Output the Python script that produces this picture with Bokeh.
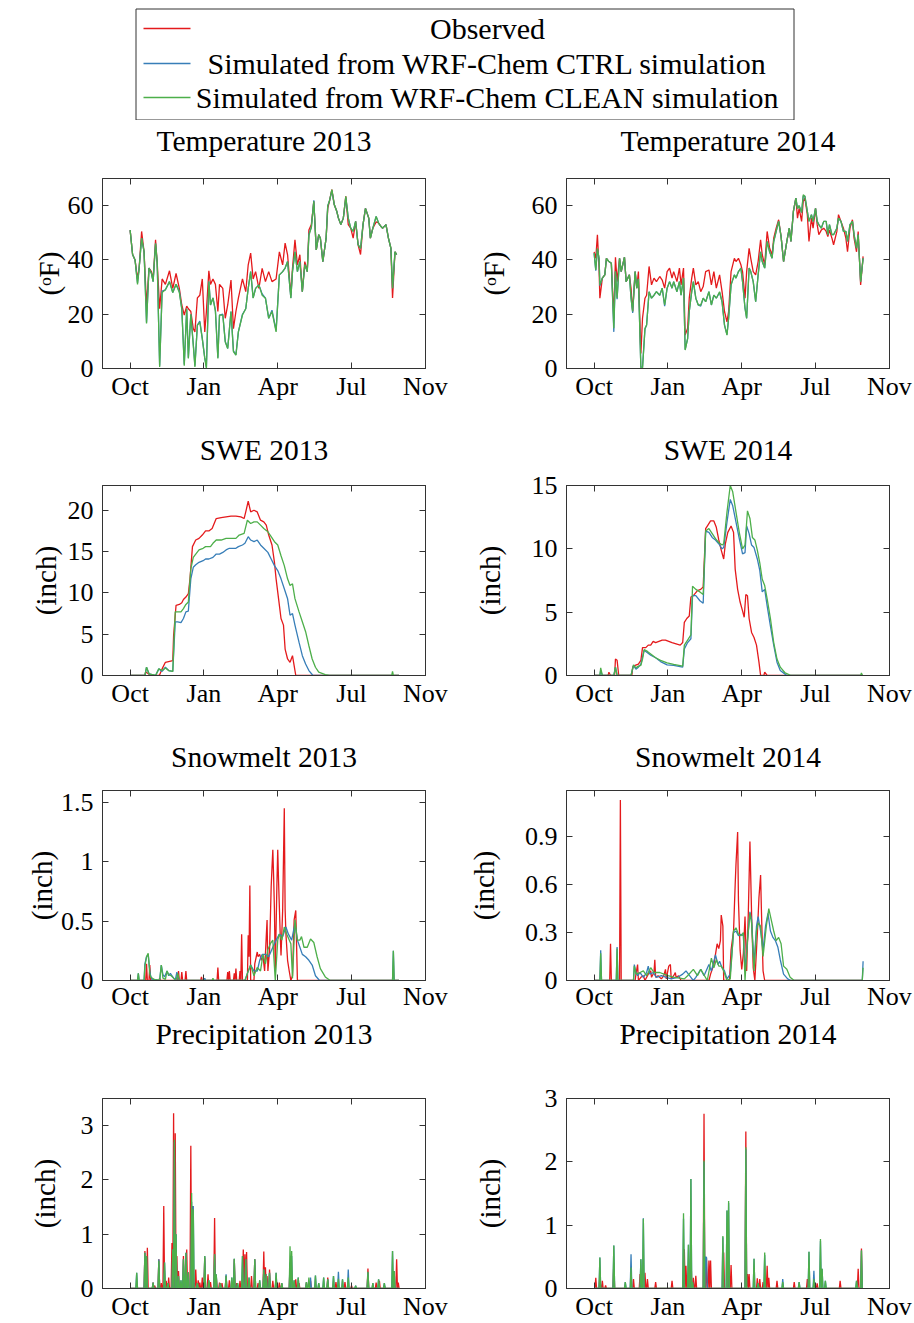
import numpy as np
from bokeh.plotting import figure
from bokeh.layouts import column, row
from bokeh.models import Range1d, FixedTicker, LinearAxis
from bokeh.embed import file_html
from bokeh.resources import INLINE
from bokeh.core.properties import value

FONT = "Liberation Serif"
RED, BLUE, GREEN = "#e41a1c", "#377eb8", "#4daf4a"
AXC = "#333333"

LEGEND_LABELS = ["Observed", "Simulated from WRF-Chem CTRL simulation",
                 "Simulated from WRF-Chem CLEAN simulation"]
MONTH_TICKS = [0, 90, 180, 270, 360]
MONTH_LABELS = ["Oct", "Jan", "Apr", "Jul", "Nov"]

# ---------------- Temperature 2013 (deg F) ----------------
temp13_day = [0,3,6,9,11,14,17,20,23,26,28,31,33,36,39,43,48,52,56,60,63,66,69,71,74,77,79,82,85,88,
              91,93,96,98,101,104,107,109,113,116,119,123,126,129,132,137,141,144,147,150,153,157,161,165,
              169,173,178,182,186,189,192,196,198,201,204,207,210,213,216,218,221,224,227,230,232,235,239,
              241,243,246,249,252,254,257,260,263,266,269,272,275,278,281,284,287,291,293,296,300,303,306,
              308,312,315,318,320,323,325]
temp13_obs = [51,42,40,33,37,50.5,43,23,37,35.7, 32.6,47.4,39,22,33,31,36,29.5,35,29.5,
              23.4,19.7,23,22,21,14.7,13.5,26,27,33, 13.5,21,36,31,33,31,21,31,29.5,18.5,
              23.4,32.6,14.7,21,25.9,33,28.3,38.2,42.5,33, 35.7,29.5,36.9,32,35.7,32,33,43,38.2,46.2,
              41.9,27,36.9,47.4,38.2,41.9,28.3,39.4,35.7,51, 53,61.6,43.7,49.3,48,39.4,48,59,61.6,65.9,
              60.3,57.9,55.4,53,55.4,63.4,53,51.7,48,54.2, 45.6,42,53,59,55.4,48,51.7,54,53.6,52.3,
              51.7,53,48,44.3,26,43,42]
temp13_ctrl = [51,42,40,31.5,37,48,43,17,37,35, 32,46,39,1,28.5,29,32,28,31,28.5,
               22,1.5,22,4,20,9,1,16,17.5,11, 4,0.5,32,23.4,26,21.5,4,19.7,20,10,
               7.4,21,6.5,5,13.5,20,22,29.5,35.7,26, 29.5,30.8,27.5,25.9,18.5,21.5,14,34.5,35.7,37,
               39.4,26,35.7,43,35.7,39.4,28.3,38.2,35.7,49.5, 52,62,43.7,49.3,48,39.4,48,60,61.6,65.5,
               60.3,57.9,55.4,53,55.4,63,55.4,51.7,50.5,54.2, 45.6,44.3,53,59,55.4,48,51.7,56,53.6,52.3,
               51.7,53,48,44.3,29.6,43,42]
temp13_clean = [51,42,40,31,37,48,43,16.6,37,35, 32,46,39,0.6,28,29,32,28,31,28,
                22,1,22,3.7,20,8.6,0.6,16,17,11, 3.7,0,32,23.4,26,21,3.7,19.7,19.7,9.8,
                7.4,21,6.2,4.9,13.5,19.7,22,29.5,35.7,25.9, 29.5,30.8,27,25.9,18.5,21,13.5,34.5,35.7,37,
                39.4,25.9,35.7,43,35.7,39.4,28.3,38.2,35.7,49, 52,61.6,43.7,49.3,48,39.4,48,60,61.6,65.9,
                60.3,57.9,55.4,53,55.4,63.4,55.4,51.7,50.5,54.2, 45.6,44.3,53,59,55.4,48,51.7,56,53.6,52.3,
                51.7,53,48,44.3,29.6,43,42]

# ---------------- Temperature 2014 (deg F) ----------------
temp14_day = [0,2,4,6,7,10,13,15,18,21, 24,26,28,31,33,37,39,43,45,47, 50,52,54,57,59,62,64,67,70,73,
              76,80,83,86,89,92,95,97,101,104, 106,109,111,114,116,119,121,124,127,130,
              133,136,140,143,146,149,153,156,159,162, 164,167,171,173,176,179,181,184,186,189,
              191,194,197,200,203,205,208,211,214,217, 219,222,225,228,231,235,238,240,243,246,
              248,250,253,255,257,260,262,265,267,270, 272,274,277,280,283,285,287,290,292,296,
              298,301,304,307,309,312,315,317,320,322, 325,328]
temp14_obs = [43,40.6,49.3,37,25.9,33.3,34.5,40.6,39.4,38.8, 18.5,41,32,40.6,35.7,41,32,34.5,29.6,21,
              35.7,29.6,35.7,5.5,18.5,25.9,27,37.6,30.8,33.3, 32,33.9,32.6,29.6,35.7,37,33.3,35.7,32,37,
              30.8,37,12.3,14.8,25.9,33.3,37,30.8,32,28.3, 30.2,35.7,36.3,30.8,35.7,29.6,34.5,28.3,21,17.2,
              21,35.7,40.6,39.4,40.6,38.2,35.7,25.9,35.7,44.3, 40.6,35.7,34.5,39.4,47.4,41.9,38.2,50.5,44.3,41.9,
              48,51.7,54.8,48.6,39.4,46.8,51.7,46.8,57.9,62.8, 55.4,59,54.2,61.6,62.8,56.7,46.8,55.4,51.7,59,
              53,49.3,51,51.7,50.5,48.6,51,48,45.6,50.5, 56.7,54.2,51.7,48,43,51.7,54.8,48,43,50.5,
              30.8,41.3]
temp14_ctrl = [42.5,36,44,40.6,30.5,33.3,34.5,40.6,39.4,38.8, 13.5,35.7,25.5,40.6,35.7,41,32,34.5,26,20.5,
               35.7,29.6,33,0.5,0.5,14.5,16,28.3,25.9,27, 28.3,27,29.6,23,29.6,32,29.6,32,28.3,32,
               27,33.3,7,11,21,28.3,32,25.9,23.4,23, 25.9,24.6,28.3,23.4,27,25.9,28,24.6,16,12.5,
               18.5,30.8,34.5,33.3,35.7,37,32,22.2,18.5,37, 35.7,32,24.6,34.5,43,39.4,37,46.8,43,40.6,
               46.8,50.5,54.2,48.6,39.4,46.8,51.7,46.8,57.9,62.8, 59,60,57.5,63.5,63.5,57.9,54.2,56.7,54.2,59,
               54.2,53,51.7,54.2,54.2,49.3,53,49.3,49.3,51.7, 55.4,54.2,50.5,50.5,46.8,53,54.2,49.3,44.3,49.3,
               32,40.6]
temp14_clean = [42.5,36.3,44.3,40.6,30.8,33.3,34.5,40.6,39.4,38.8, 14.8,35.7,25.9,40.6,35.7,41,32,34.5,26,21,
                35.7,29.6,33,0,0,14.8,16,28.3,25.9,27, 28.3,27,29.6,23.4,29.6,32,29.6,32,28.3,32,
                27,33.3,6.8,11,21,28.3,32,25.9,23.4,23.4, 25.9,24.6,28.3,23.4,27,25.9,28.3,24.6,16,12.3,
                18.5,30.8,34.5,33.3,35.7,37,32,22.2,18.5,37, 35.7,32,24.6,34.5,43,39.4,37,46.8,43,40.6,
                46.8,50.5,54.2,48.6,39.4,46.8,51.7,46.8,57.9,62.8, 59,60,57.5,64,63.5,57.9,54.2,56.7,54.2,59,
                54.2,53,51.7,54.2,54.2,49.3,53,49.3,49.3,51.7, 55.4,54.2,50.5,50.5,46.8,53,54.2,49.3,44.3,49.3,
                32,40.6]

# ---------------- SWE (inch), (day, value) ----------------
swe13_obs = [(0,0),(18,0),(19,0.4),(21,0.3),(25,0),(35,0),(36,0.1),(39,0.8),(43,1.6),(52,1.8),(53,4.8),
             (56,8.5),(60,8.6),(63,8.8),(65,9.2),(68,9.5),(71,9.9),(73,11.7),(76,15.6),(80,16.4),(84,16.6),
             (88,17),(92,17.5),(96,17.5),(100,17.8),(105,19),(111,19.1),(117,19.2),(123,19.3),(129,19.3),
             (135,19.2),(139,19),(141,19.8),(144,21.1),(147,19.8),(151,20),(155,19.8),(159,18.8),(163,18.6),
             (166,18.2),(169,17),(173,15.8),(176,13.7),(178,11.7),(181,9.3),(184,6.9),(187,6.1),(189,3.2),
             (192,2.0),(195,1.6),(198,2.4),(200,1.2),(202,0),(328,0)]
swe13_ctrl = [(0,0),(18,0),(20,1.0),(23,0.2),(27,0.1),(31,0),(35,0.8),(39,0.5),(43,1.0),(47,0.6),(52,0.5),
              (55,6.5),(58,6.5),(62,6.4),(65,6.9),(68,7.7),(71,7.8),(74,11.7),(77,13.1),(80,13.4),(84,13.7),
              (89,13.9),(92,14.1),(96,14.1),(101,14.3),(105,14.7),(109,14.7),(113,14.9),(117,15.2),(121,15.4),
              (126,15.4),(129,15.4),(132,15.6),(137,15.8),(140,16),(144,16.8),(147,16.4),(151,16.2),(155,16.4),
              (159,15.8),(163,15.4),(168,14.9),(172,14.1),(176,13.3),(180,12.7),(184,11.7),(188,10.5),(192,9.3),
              (195,7.3),(198,7.5),(201,6.1),(206,4.0),(210,2.4),(214,1.4),(218,0.6),(223,0),(328,0)]
swe13_clean = [(0,0),(18,0),(20,1.0),(23,0.2),(27,0.1),(31,0),(35,0.8),(39,0.6),(43,0.9),(47,0.6),(52,0.5),
               (55,7.7),(58,7.7),(62,7.7),(65,8.1),(68,8.6),(71,8.9),(74,12.9),(77,14.3),(80,14.7),(84,15.2),
               (89,15.4),(92,15.6),(98,15.6),(101,16),(105,16.4),(111,16.4),(117,16.6),(123,16.6),(129,16.6),
               (133,17),(139,17.2),(143,18.8),(147,18.4),(151,18.6),(155,18.6),(159,18.2),(163,17.8),(168,17.4),
               (172,16.8),(176,16.2),(180,15.8),(184,14.5),(188,13.3),(192,11.7),(195,10.9),(198,11.1),(201,9.3),
               (206,7.7),(210,6.5),(214,5.3),(218,3.6),(222,2.0),(226,1.0),(230,0.4),(238,0.1),(243,0),
               (319,0),(320,0.5),(321,0),(328,0)]
swe14_obs = [(0,0),(17,0),(18,0.26),(20,0),(25,0),(26,1.3),(28,1.2),(30,0),(46,0),(47,0.66),(50,0.8),(54,0.9),
             (57,1.2),(59,2.2),(63,2.2),(66,2.4),(69,2.4),(72,2.7),(75,2.6),(79,2.7),(83,2.8),(87,2.8),(91,2.7),
             (95,2.6),(100,2.5),(105,2.4),(108,2.6),(110,4.2),(113,4.5),(116,4.7),(118,6.2),(121,6.3),(126,6.7),
             (130,6.8),(133,7.0),(136,11.6),(138,11.8),(142,12.2),(146,12.2),(149,11.7),(152,10.7),(155,9.9),
             (158,9.2),(160,10.4),(163,11.3),(167,11.8),(170,11.3),(172,8.4),(175,6.8),(178,5.8),(181,5.1),
             (183,4.6),(185,6.4),(187,6.3),(189,4.5),(192,3.4),(195,3.0),(198,2.4),(201,1.05),(203,0),(207,0),
             (208,0.26),(211,0),(328,0)]
swe14_ctrl = [(0,0),(7,0),(8,0.4),(10,0),(24,0),(26,0.66),(28,0),(45,0),(48,0.8),(51,0.5),(54,0.66),(57,0.9),
              (61,2.0),(65,1.8),(69,1.6),(75,1.4),(81,1.1),(89,0.84),(97,0.8),(108,0.66),(110,2.1),(114,2.6),
              (118,2.9),(120,6.3),(124,6.3),(129,5.9),(133,5.7),(136,11.4),(140,11.3),(144,10.9),(148,10.7),
              (152,10.4),(156,10),(158,10.1),(162,12.1),(166,13.9),(169,13.4),(173,12.1),(177,10.8),(181,9.6),
              (184,9.7),(186,11.8),(189,11.2),(192,10.3),(195,10.1),(199,9.2),(202,8.3),(205,6.6),(208,6.8),
              (211,5.5),(215,3.9),(219,2.4),(223,1.05),(227,0.4),(234,0.05),(236,0),(328,0)]
swe14_clean = [(0,0),(7,0),(8,0.6),(10,0),(24,0),(26,0.66),(28,0),(45,0),(48,0.84),(51,0.6),(54,0.74),(57,0.8),
               (59,1.3),(61,2.05),(65,1.9),(69,1.7),(75,1.4),(81,1.2),(89,1.0),(97,0.87),(108,0.74),(110,2.4),
               (114,2.8),(118,3.2),(120,7.05),(124,6.8),(129,6.6),(133,6.4),(136,11.4),(140,11.6),(144,11.2),
               (148,10.8),(152,10.5),(156,10.3),(158,10.4),(162,12.9),(166,15.0),(169,14.5),(173,12.9),
               (177,11.3),(181,10),(184,10.3),(187,13.0),(190,12.4),(193,10.9),(196,10.7),(199,9.9),(202,8.9),
               (205,7.6),(208,7.1),(211,6.05),(215,4.5),(219,2.6),(223,1.3),(227,0.66),(233,0.2),(240,0),
               (325,0),(326,0.2),(327,0),(328,0)]

# ---------------- Snowmelt (inch), (day, value) ----------------
sm13_obs = [(0,0),(19,0),(20,0.14),(21,0),(23,0),(24,0.13),(25,0),(35,0),(36,0.02),(37,0),(58,0),(59,0.08),
            (60,0),(62,0),(63,0.07),(64,0),(67,0),(68,0.08),(69,0),(86,0),(87,0.03),(88,0),(106,0),(107,0.11),
            (108,0),(118,0),(119,0.07),(120,0),(121,0.08),(122,0),(126,0),(127,0.06),(128,0),(129,0.1),(130,0),
            (133,0),(134,0.08),(135,0),(136,0.39),(137,0),(143,0),(144,0.38),(145,0.2),(146,0.80),(147,0),
            (151,0),(152,0.14),(155,0.24),(156,0.2),(158,0.22),(160,0.17),(162,0.21),(164,0.08),(166,0.37),
            (167,0.51),(168,0.08),(170,0.25),(172,0.79),(173,0.95),(174,1.10),(175,0.87),(176,0.59),(177,0.08),
            (179,0.81),(180,1.10),(181,0.84),(183,0.39),(184,0.21),(186,0.59),(188,1.45),(189,0.6),(190,0.39),
            (192,0.17),(194,0.08),(196,0),(198,0.04),(200,0.51),(202,0.59),(204,0),(328,0)]
sm13_ctrl = [(0,0),(9,0),(10,0.06),(11,0),(17,0),(18,0.14),(20,0.2),(22,0.22),(24,0.08),(25,0.04),(27,0),
             (29,0.01),(36,0),(38,0.13),(40,0.05),(42,0.03),(45,0.08),(47,0.04),(49,0.06),(52,0.03),(55,0),
             (57,0.07),(59,0),(90,0),(91,0.02),(92,0),(140,0),(143,0.06),(147,0.13),(151,0.08),(155,0.08),
             (158,0.17),(161,0.22),(165,0.22),(169,0.2),(174,0.28),(178,0.34),(182,0.39),(186,0.37),(190,0.45),
             (193,0.39),(197,0.34),(201,0.48),(204,0.34),(207,0.28),(210,0.22),(214,0.2),(218,0.17),(222,0.13),
             (226,0.04),(231,0),(320,0),(321,0.25),(322,0),(328,0)]
sm13_clean = [(0,0),(9,0),(10,0.06),(11,0),(17,0),(18,0.12),(20,0.2),(22,0.23),(24,0.06),(25,0.03),(29,0.01),
              (36,0),(38,0.13),(40,0.02),(43,0.01),(45,0.08),(47,0.05),(50,0.04),(53,0.02),(56,0),(58,0.06),
              (60,0),(100,0),(101,0.02),(102,0),(140,0),(143,0.06),(147,0.13),(151,0.04),(155,0.11),(159,0.08),
              (162,0.22),(165,0.14),(168,0.26),(171,0.31),(174,0.34),(177,0),(180,0.34),(182,0.39),(185,0.34),
              (188,0.45),(191,0.39),(196,0.31),(198,0.02),(201,0.51),(204,0.34),(207,0.34),(209,0.37),(212,0.28),
              (216,0.28),(220,0.35),(224,0.32),(228,0.2),(232,0.1),(238,0.03),(244,0),(320,0),(321,0.25),
              (322,0),(328,0)]
sm14_obs = [(0,0),(19,0),(20,0.23),(21,0),(31,0),(32,1.13),(33,0),(50,0),(51,0.04),(53,0.1),(54,0),(57,0.02),
            (60,0.03),(62,0),(66,0.04),(69,0.06),(70,0.02),(73,0.05),(74,0.13),(75,0.02),(78,0.03),(82,0.01),
            (85,0.03),(87,0.07),(88,0.01),(91,0.09),(93,0.1),(94,0.01),(97,0.03),(99,0.05),(100,0.02),(103,0.03),
            (106,0),(140,0),(142,0.04),(146,0.1),(150,0.23),(152,0.2),(154,0.25),(155,0.41),(157,0.34),(158,0),
            (165,0),(167,0.19),(170,0.31),(172,0.6),(173,0.73),(175,0.93),(176,0.5),(178,0.19),(180,0.07),
            (182,0.17),(184,0.4),(186,0.06),(188,0.42),(190,0.87),(192,0.42),(194,0.08),(196,0),(199,0.29),
            (201,0.52),(203,0.66),(204,0.44),(206,0.06),(208,0),(328,0)]
sm14_ctrl = [(0,0),(7,0),(8,0.19),(9,0),(27,0),(28,0.21),(29,0),(48,0),(49,0.1),(51,0.05),(53,0.03),(56,0.05),
             (60,0.02),(64,0.05),(66,0.09),(68,0.04),(72,0.05),(76,0.02),(82,0.03),(88,0.02),(94,0.01),(102,0.02),
             (108,0.04),(112,0.06),(115,0.04),(118,0.02),(121,0),(124,0.02),(130,0.07),(134,0.03),(140,0.1),
             (143,0.06),(148,0.16),(151,0.1),(153,0.12),(156,0.08),(159,0.06),(162,0.01),(166,0.04),(170,0.3),
             (173,0.31),(176,0.28),(179,0.29),(182,0.28),(184,0.06),(187,0.25),(190,0.43),(192,0.38),(195,0.1),
             (198,0.34),(200,0.4),(203,0.31),(206,0.19),(209,0.34),(212,0.42),(215,0.31),(218,0.27),(221,0.25),
             (224,0.21),(227,0.13),(231,0.04),(236,0.01),(240,0),(327,0),(328,0.12)]
sm14_clean = [(0,0),(7,0),(8,0.17),(9,0),(27,0),(28,0.2),(29,0),(48,0),(49,0.09),(51,0.04),(56,0.05),(60,0.06),
              (64,0.03),(69,0.08),(73,0.05),(80,0.05),(90,0.03),(98,0.02),(110,0.01),(114,0.03),(121,0.07),
              (126,0.03),(130,0.07),(138,0),(143,0.14),(146,0.08),(149,0.13),(152,0.09),(155,0.09),(158,0.06),
              (162,0),(166,0.01),(170,0.31),(173,0.33),(176,0.29),(179,0.28),(182,0.3),(184,0),(187,0.25),
              (190,0.42),(192,0.36),(195,0.06),(198,0.31),(200,0.36),(203,0.34),(206,0.15),(210,0.34),(213,0.45),
              (216,0.38),(219,0.31),(222,0.25),(225,0.27),(228,0.23),(231,0.09),(235,0.07),(239,0.02),(244,0),
              (327,0),(328,0.08)]

# ---------------- Precipitation (inch): daily totals, (day, value) for wet days ----------------
pr13_obs = [(18,0.69),(21,0.75),(28,0.11),(30,0.05),(35,0.54),(38,0.1),(41,1.52),(44,0.14),(47,0.2),(51,0.84),
            (53,3.23),(55,2.86),(57,0.6),(59,0.32),(62,0.08),(65,0.6),(69,0.72),(74,2.63),(76,1.52),(78,0.1),
            (80,0.35),(83,0.15),(85,0.11),(88,0.2),(91,0.57),(95,0.26),(98,0.12),(103,1.3),(105,0.23),(109,0.11),
            (112,0.1),(117,0.23),(121,0.15),(127,0.54),(130,0.1),(134,0.14),(138,0.72),(140,0.63),(142,0.67),
            (145,0.12),(148,0.23),(152,0.54),(156,0.1),(163,0.68),(165,0.39),(167,0.23),(170,0.35),(174,0.14),
            (178,0.2),(182,0.11),(185,0.08),(195,0.42),(202,0.17),(206,0.1),(215,0.11),(220,0.14),(226,0.06),
            (241,0.2),(251,0.12),(262,0.12),(270,0.05),(290,0.37),(300,0.11),(304,0.14),(310,0.05),(321,0.14),
            (325,0.54),(327,0.11)]
pr13_ctrl = [(8,0.29),(18,0.66),(20,0.6),(28,0.11),(35,0.54),(42,0.48),(46,0.1),(52,0.72),(54,2.7),(56,1.0),
             (59,0.23),(62,0.15),(65,0.54),(68,0.66),(71,0.3),(75,1.6),(77,1.52),(82,0.1),(91,0.6),(96,0.15),
             (103,0.63),(105,0.26),(110,0.1),(117,0.26),(124,0.2),(127,0.55),(131,0.1),(137,0.6),(141,0.54),
             (145,0.2),(152,0.54),(158,0.15),(163,0.35),(166,0.26),(170,0.29),(178,0.29),(185,0.1),(195,0.48),
             (197,0.6),(200,0.15),(205,0.2),(215,0.12),(220,0.2),(226,0.24),(230,0.1),(236,0.2),(241,0.17),
             (248,0.23),(254,0.31),(259,0.17),(266,0.35),(275,0.05),(290,0.3),(296,0.1),(303,0.17),(310,0.1),
             (320,0.69),(322,0.32)]
pr13_clean = [(8,0.29),(18,0.66),(20,0.6),(28,0.11),(35,0.51),(42,0.48),(46,0.1),(52,0.72),(54,2.74),(56,1.0),
              (59,0.23),(62,0.15),(65,0.54),(68,0.66),(71,0.3),(75,1.76),(77,1.46),(82,0.1),(91,0.6),(96,0.15),
              (103,0.63),(105,0.26),(110,0.1),(117,0.24),(124,0.2),(127,0.55),(131,0.1),(137,0.6),(141,0.54),
              (145,0.2),(152,0.54),(158,0.15),(163,0.35),(166,0.26),(170,0.29),(178,0.29),(185,0.1),(195,0.78),
              (197,0.69),(200,0.15),(205,0.2),(215,0.12),(218,0.2),(226,0.24),(230,0.1),(236,0.2),(241,0.17),
              (248,0.23),(254,0.18),(259,0.17),(266,0.2),(275,0.05),(290,0.31),(296,0.1),(303,0.17),(310,0.1),
              (320,0.69),(322,0.32)]
pr14_obs = [(2,0.17),(7,0.2),(10,0.12),(14,0.05),(24,0.41),(48,0.15),(56,0.23),(62,0.25),(65,0.15),(75,0.1),
            (95,0.12),(110,0.62),(112,0.36),(115,0.25),(118,0.73),(121,0.17),(124,0.2),(134,2.76),(137,0.49),
            (140,0.44),(142,0.44),(158,0.57),(164,0.2),(167,0.37),(185,2.48),(187,0.23),(189,0.23),(199,0.16),
            (202,0.15),(206,0.1),(211,0.36),(213,0.17),(223,0.12),(244,0.1),(260,0.15),(272,0.08),(300,0.12),
            (322,0.31),(326,0.63)]
pr14_ctrl = [(7,0.49),(24,0.68),(38,0.1),(45,0.54),(57,0.46),(60,1.11),(109,1.1),(115,0.69),(118,1.73),
             (120,0.1),(134,2.0),(136,0.5),(137,0.49),(157,0.81),(162,1.23),(164,1.35),(185,2.2),(195,0.47),
             (200,0.08),(208,0.53),(230,0.15),(250,0.1),(262,0.58),(268,0.28),(276,0.75),(278,0.31),(282,0.12),
             (320,0.12),(326,0.6)]
pr14_clean = [(7,0.49),(24,0.68),(38,0.1),(45,0.33),(57,0.46),(60,1.1),(109,1.19),(115,0.69),(118,1.73),
              (120,0.1),(134,2.02),(157,0.83),(162,1.23),(164,1.38),(185,2.23),(195,0.47),(200,0.08),(208,0.57),
              (230,0.1),(250,0.1),(262,0.58),(268,0.15),(276,0.78),(278,0.31),(282,0.12),(320,0.12),(326,0.6)]
PR_LAST_DAY = 328

# ---------------- helpers ----------------
def unzip(pairs):
    return [p[0] for p in pairs], [p[1] for p in pairs]

def daily(spikes):
    d = np.arange(PR_LAST_DAY + 1)
    v = np.zeros(PR_LAST_DAY + 1)
    for day, val in spikes:
        v[day] = val
    return d, v

X0, X1 = -33.7, 360.2
FRAME_H = 190
TOPS = [58, 56, 54, 85]
BOTTOMS = [61, 61, 33, 35]
XLABEL_STANDOFF = [3, 3, 1, 3]
TITLE_STANDOFF = [22, 20, 18, 49]

def style_axis(ax, labels=True, size="26px", standoff=8):
    ax.axis_line_color = AXC
    ax.major_tick_line_color = AXC
    ax.major_tick_in = 6
    ax.major_tick_out = 0
    ax.minor_tick_line_color = None
    if labels:
        ax.major_label_text_font = FONT
        ax.major_label_text_font_size = size
        ax.major_label_text_color = "black"
        ax.major_label_standoff = standoff
    else:
        ax.major_label_text_font_size = "0px"
        ax.major_label_text_color = None
        ax.major_label_standoff = 0

def panel(title, col, rowi, ymax, yticks, ylabels, ylabel, series, label_std):
    left = col == 0
    p = figure(frame_width=323, frame_height=FRAME_H,
               x_range=Range1d(X0, X1), y_range=Range1d(0, ymax),
               output_backend="svg", toolbar_location=None,
               x_axis_type=None, y_axis_type=None,
               min_border_left=102 if left else 104, min_border_right=37 if left else 25,
               min_border_top=TOPS[rowi], min_border_bottom=BOTTOMS[rowi])
    p.outline_line_color = AXC

    xb = LinearAxis(ticker=FixedTicker(ticks=MONTH_TICKS),
                    major_label_overrides=dict(zip(MONTH_TICKS, MONTH_LABELS)))
    style_axis(xb, True, standoff=XLABEL_STANDOFF[rowi])
    p.add_layout(xb, "below")
    # mirrored top axis (inward ticks only); its axis label carries the panel title
    xa = LinearAxis(ticker=FixedTicker(ticks=MONTH_TICKS), axis_label=title)
    style_axis(xa, False)
    xa.axis_label_text_font = FONT
    xa.axis_label_text_font_size = "29.5px"
    xa.axis_label_text_font_style = "normal"
    xa.axis_label_text_color = "black"
    xa.axis_label_standoff = TITLE_STANDOFF[rowi]
    p.add_layout(xa, "above")
    yl = LinearAxis(ticker=FixedTicker(ticks=yticks),
                    major_label_overrides=dict(zip(yticks, ylabels)),
                    axis_label=ylabel)
    style_axis(yl, True, standoff=9)
    yl.axis_label_text_font = FONT
    yl.axis_label_text_font_size = "29px"
    yl.axis_label_text_font_style = "normal"
    yl.axis_label_text_color = "black"
    yl.axis_label_standoff = label_std
    p.add_layout(yl, "left")
    yr = LinearAxis(ticker=FixedTicker(ticks=yticks))
    style_axis(yr, False)
    p.add_layout(yr, "right")

    for (xs, ys), color in zip(series, [RED, BLUE, GREEN]):
        p.line(xs, ys, line_color=color, line_width=1.3)
    return p

T_TICKS, T_LABELS = [0, 20, 40, 60], ["0", "20", "40", "60"]
p1 = panel("Temperature 2013", 0, 0, 70, T_TICKS, T_LABELS, "(ᵒF)",
           [(temp13_day, temp13_obs), (temp13_day, temp13_ctrl), (temp13_day, temp13_clean)], 0)
p2 = panel("Temperature 2014", 1, 0, 70, T_TICKS, T_LABELS, "(ᵒF)",
           [(temp14_day, temp14_obs), (temp14_day, temp14_ctrl), (temp14_day, temp14_clean)], 19)
p3 = panel("SWE 2013", 0, 1, 23, [0, 5, 10, 15, 20], ["0", "5", "10", "15", "20"], "(inch)",
           [unzip(swe13_obs), unzip(swe13_ctrl), unzip(swe13_clean)], 3)
p4 = panel("SWE 2014", 1, 1, 15, [0, 5, 10, 15], ["0", "5", "10", "15"], "(inch)",
           [unzip(swe14_obs), unzip(swe14_ctrl), unzip(swe14_clean)], 23)
p5 = panel("Snowmelt 2013", 0, 2, 1.6, [0, 0.5, 1, 1.5], ["0", "0.5", "1", "1.5"], "(inch)",
           [unzip(sm13_obs), unzip(sm13_ctrl), unzip(sm13_clean)], 0)
p6 = panel("Snowmelt 2014", 1, 2, 1.19, [0, 0.3, 0.6, 0.9], ["0", "0.3", "0.6", "0.9"], "(inch)",
           [unzip(sm14_obs), unzip(sm14_ctrl), unzip(sm14_clean)], 22)
p7 = panel("Precipitation 2013", 0, 3, 3.5, [0, 1, 2, 3], ["0", "1", "2", "3"], "(inch)",
           [daily(pr13_obs), daily(pr13_ctrl), daily(pr13_clean)], 17)
p8 = panel("Precipitation 2014", 1, 3, 3.0, [0, 1, 2, 3], ["0", "1", "2", "3"], "(inch)",
           [daily(pr14_obs), daily(pr14_ctrl), daily(pr14_clean)], 36)

# ---------------- legend ----------------
LG_W, LG_H = 914, 120
lg = figure(width=LG_W, height=LG_H, x_range=Range1d(0, LG_W), y_range=Range1d(LG_H, 0),
            output_backend="svg", toolbar_location=None, x_axis_type=None, y_axis_type=None,
            min_border=0)
lg.outline_line_color = None
lg.quad(left=[135.5], right=[793.5], top=[8.5], bottom=[119.5], fill_color=None, line_color=AXC, line_width=1)
rows_y = [28, 63, 97]
lg.segment(x0=[143] * 3, x1=[190] * 3, y0=rows_y, y1=rows_y, line_color=[RED, BLUE, GREEN], line_width=1.6)
lg.text(x=[487] * 3, y=rows_y, text=LEGEND_LABELS, text_align="center", text_baseline="middle",
        text_font=value(FONT), text_font_size="30px", text_color="black")

layout = column(lg, row(p1, p2), row(p3, p4), row(p5, p6), row(p7, p8))
open("out.html", "w").write(file_html(layout, INLINE, title="Observed vs simulated"))
